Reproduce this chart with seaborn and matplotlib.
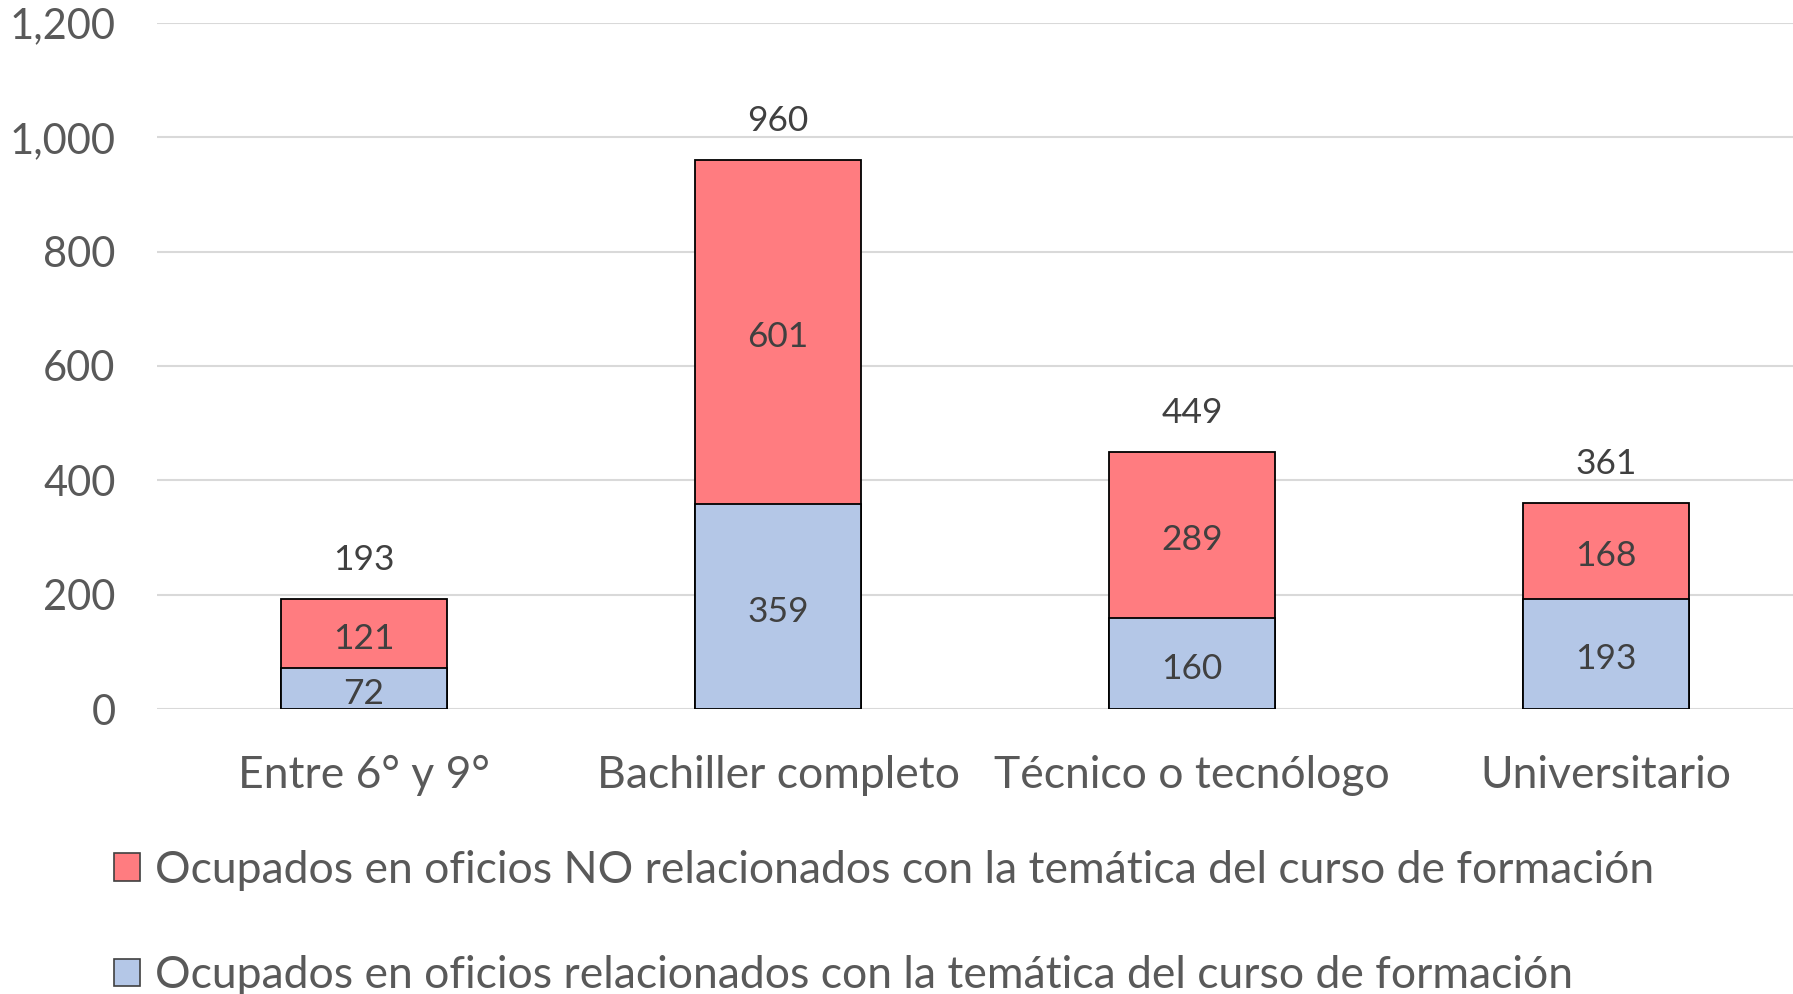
import matplotlib
matplotlib.use("Agg")
import matplotlib.pyplot as plt
from matplotlib.patches import Patch
from matplotlib.transforms import offset_copy
import seaborn as sns
import pandas as pd

categories = ["Entre 6° y 9°", "Bachiller completo", "Técnico o tecnólogo", "Universitario"]
relacionados = [72, 359, 160, 193]
no_relacionados = [121, 601, 289, 168]
totales = [193, 960, 449, 361]
serie_no = "Ocupados en oficios NO relacionados con la temática del curso de formación"
serie_si = "Ocupados en oficios relacionados con la temática del curso de formación"
y_ticks = [0, 200, 400, 600, 800, 1000, 1200]

RED = "#FF7C80"
BLUE = "#B4C7E7"
GREY = "#595959"
DARK = "#404040"

sns.set_theme(style="white")
plt.rcParams["font.family"] = ["Lato", "DejaVu Sans"]

df = pd.DataFrame({
    "cat": categories,
    "rel": relacionados,
    "norel": no_relacionados,
    "total": totales,
})

fig = plt.figure(figsize=(17.93, 9.94), dpi=100)
ax = fig.add_axes([0.0876, 0.2867, 0.9236, 0.6903])

# Stacked bars: the full total in red, the related part drawn over it in blue
sns.barplot(data=df, x="cat", y="total", color=RED, width=0.4,
            edgecolor="black", linewidth=1.3, saturation=1, ax=ax, zorder=3)
sns.barplot(data=df, x="cat", y="rel", color=BLUE, width=0.4,
            edgecolor="black", linewidth=1.3, saturation=1, ax=ax, zorder=4)

# Segment labels sit a touch below the segment centre
inner = offset_copy(ax.transData, fig=fig, y=-4, units="points")
for i, (r, n, t) in enumerate(zip(relacionados, no_relacionados, totales)):
    ax.text(i, r / 2, f"{r}", ha="center", va="center", fontsize=25.5,
            color=DARK, zorder=5, transform=inner)
    ax.text(i, r + n / 2, f"{n}", ha="center", va="center", fontsize=25.5,
            color=DARK, zorder=5, transform=inner)
    ax.text(i, t + 40, f"{t}", ha="center", va="bottom", fontsize=25.5,
            color=DARK, zorder=5)

ax.set_ylim(0, 1200)
ax.set_xlim(-0.5, 3.5)
ax.set_yticks(y_ticks)
ax.set_yticklabels([f"{v:,}" for v in y_ticks])
ax.yaxis.grid(True, color="#D9D9D9", linewidth=1.5, zorder=0)
ax.set_axisbelow(True)
for s in ax.spines.values():
    s.set_visible(False)
ax.tick_params(axis="both", length=0, labelcolor=GREY)
ax.tick_params(axis="y", labelsize=30, pad=30)
ax.tick_params(axis="x", labelsize=32, pad=33)
ax.set_xlabel("")
ax.set_ylabel("")

handles = [
    Patch(facecolor=RED, edgecolor=DARK, linewidth=1.2, label=serie_no),
    Patch(facecolor=BLUE, edgecolor=DARK, linewidth=1.2, label=serie_si),
]
fig.legend(handles=handles, loc="upper left", bbox_to_anchor=(0.0635, 0.145),
           bbox_transform=fig.transFigure, frameon=False, fontsize=32,
           labelcolor=GREY, handlelength=0.58, handleheight=0.58, handletextpad=0.35,
           labelspacing=1.45, borderaxespad=0, borderpad=0)

fig.savefig("out.png", dpi=100)
